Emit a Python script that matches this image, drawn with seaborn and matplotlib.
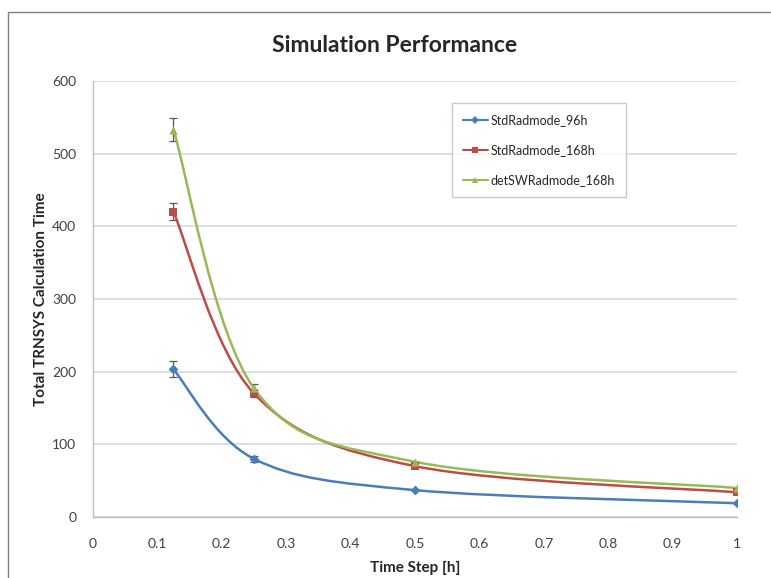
import numpy as np
import pandas as pd
import matplotlib
matplotlib.use("Agg")
import matplotlib.pyplot as plt
from matplotlib.path import Path
from matplotlib.patches import PathPatch, Rectangle
from matplotlib.lines import Line2D
import seaborn as sns

# data
time_step = [0.125, 0.25, 0.5, 1.0]
std_96h = [203, 80, 37, 19]
std_168h = [420, 170, 70, 34]
detsw_168h = [533, 177, 76, 40]
err_96h = [11, 4, 0, 0]
err_168h = [12, 5, 0, 0]
err_detsw = [16, 6, 0, 0]
series_names = ["StdRadmode_96h", "StdRadmode_168h", "detSWRadmode_168h"]
colors = ["#4a7ebb", "#be4b48", "#98b954"]
markers = ["D", "s", "^"]
msizes = [5, 6, 6]

sns.set_style("white")
plt.rcParams["font.family"] = ["Lato", "DejaVu Sans"]

df = pd.DataFrame({
    "t": time_step * 3,
    "val": std_96h + std_168h + detsw_168h,
    "err": err_96h + err_168h + err_detsw,
    "series": [n for n in series_names for _ in time_step],
})

fig = plt.figure(figsize=(7.71, 5.78), dpi=100)
ax = fig.add_axes([0.1206, 0.1055, 0.8354, 0.7545])

# outer chart frame
fig.patches.append(Rectangle((8 / 771, -0.1), 1.2, 1 - 12 / 578 + 0.1,
                             transform=fig.transFigure, fill=False,
                             edgecolor="#7f7f7f", lw=1.0))


def smooth_path(xs, ys):
    # Excel-like smoothed line: cubic Bezier with Catmull-Rom tangents
    pts = np.column_stack([xs, ys]).astype(float)
    verts = [pts[0]]
    codes = [Path.MOVETO]
    n = len(pts)
    for i in range(n - 1):
        p0 = pts[i - 1] if i > 0 else pts[i]
        p1, p2 = pts[i], pts[i + 1]
        p3 = pts[i + 2] if i + 2 < n else pts[i + 1]
        c1 = p1 + (p2 - p0) / 6.0
        c2 = p2 - (p3 - p1) / 6.0
        verts += [c1, c2, p2]
        codes += [Path.CURVE4] * 3
    return Path(verts, codes)


handles = []
for name, c, m, ms in zip(series_names, colors, markers, msizes):
    sub = df[df["series"] == name]
    ax.add_patch(PathPatch(smooth_path(sub["t"], sub["val"]), fill=False,
                           edgecolor=c, lw=1.8, zorder=3))
    ax.errorbar(sub["t"], sub["val"], yerr=sub["err"], fmt="none",
                ecolor="#595959", elinewidth=0.9, capsize=3, capthick=0.9,
                zorder=2)
    sns.scatterplot(x=sub["t"], y=sub["val"], ax=ax, color=c, marker=m,
                    s=ms ** 2, edgecolor=c, linewidth=0, zorder=4, legend=False)
    handles.append(Line2D([0], [0], color=c, lw=1.5, marker=m, markersize=4,
                          markeredgewidth=0, label=name))

ax.set_xlim(0, 1)
ax.set_ylim(0, 600)
ax.set_xticks(np.arange(0, 1.01, 0.1))
ax.set_xticklabels(["0", "0.1", "0.2", "0.3", "0.4", "0.5", "0.6", "0.7",
                    "0.8", "0.9", "1"])
ax.set_yticks(range(0, 601, 100))
ax.yaxis.grid(True, color="#d9d9d9", lw=1.2)
ax.set_axisbelow(True)
for s in ["top", "right"]:
    ax.spines[s].set_visible(False)
for s in ["left", "bottom"]:
    ax.spines[s].set_color("#bfbfbf")
    ax.spines[s].set_linewidth(1.0)
ax.tick_params(axis="both", labelsize=10, colors="#404040", length=0, pad=15)
ax.tick_params(axis="y", length=4, color="#bfbfbf", pad=8)

ax.set_xlabel("Time Step [h]", fontsize=11, fontweight="bold", labelpad=8)
ax.set_ylabel("Total TRNSYS Calculation Time", fontsize=11, fontweight="bold",
              labelpad=3)
fig.text(0.512, 0.922, "Simulation Performance", ha="center", va="center",
         fontsize=16.5, fontweight="bold")

leg = ax.legend(handles=handles, loc="upper left",
                bbox_to_anchor=(0.557, 0.95), frameon=True, fontsize=9,
                handlelength=2.0, labelspacing=1.45, borderpad=0.9,
                handletextpad=0.2, borderaxespad=0, fancybox=False)
leg.get_frame().set_edgecolor("#bfbfbf")
leg.get_frame().set_linewidth(1.0)

fig.savefig("out.png", dpi=100)
